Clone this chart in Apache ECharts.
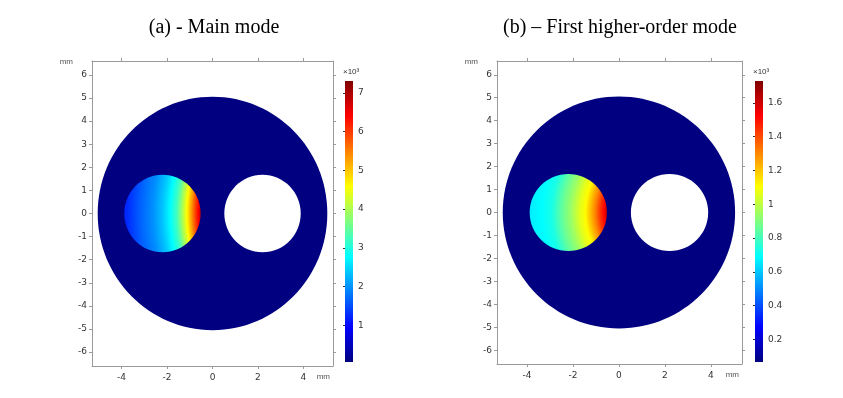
<!DOCTYPE html>
<html>
<head>
<meta charset="utf-8">
<title>Mode field</title>
<script src="https://cdn.jsdelivr.net/npm/echarts@6.0.0/dist/echarts.min.js"></script>
<style>
  html, body { margin: 0; padding: 0; background: #fff; }
  #chart { width: 843px; height: 398px; }
</style>
</head>
<body>
<div id="chart"></div>
<script>
// fibre cross-section, mm : cladding, left core, right hole
var circleX = [0, -2.2, 2.2];
var circleY = [0, 0, 0];
var circleR = [5.05, 1.68, 1.68];
var circleKind = [0, 1, 2];

// field read along y = 0 through the left core (x in mm, value x10^3)
var profileXA = [-3.77, -3.19, -2.61, -2.17, -1.86, -1.57, -1.35, -1.13, -0.94, -0.76, -0.62, -0.51];
var profileA = [1.24, 1.64, 1.98, 2.38, 2.77, 3.24, 3.9, 4.59, 5.27, 5.93, 6.4, 6.9];
var profileXB = [-3.79, -3.35, -2.92, -2.48, -2.05, -1.69, -1.46, -1.25, -1.03, -0.81, -0.64, -0.52];
var profileB = [0.665, 0.69, 0.73, 0.85, 0.95, 1.06, 1.11, 1.21, 1.31, 1.44, 1.52, 1.63];
// the iso-lines are arcs round these points on y = 0 (mm)
var fieldCentreA = 5.9;
var fieldCentreB = 1.85;

// colour scales
var rangeA = [0.05, 7.31];
var rangeB = [0.066, 1.73];
var cbTicksA = [1, 2, 3, 4, 5, 6, 7];
var cbTicksB = [0.2, 0.4, 0.6, 0.8, 1, 1.2, 1.4, 1.6];

// axes
var xTicks = [-4, -2, 0, 2, 4];
var yTicks = [-6, -5, -4, -3, -2, -1, 0, 1, 2, 3, 4, 5, 6];
var titles = ['(a) - Main mode', '(b) \u2013 First higher-order mode'];

var jet = ['#000080', '#0000ff', '#0080ff', '#00ffff', '#80ff80', '#ffff00', '#ff8000', '#ff0000', '#800000'];

function jetAt(v, range) {
    var t = (v - range[0]) / (range[1] - range[0]);
    t = Math.max(0, Math.min(1, t));
    return echarts.color.lerp(t, jet);
}

var circles = circleX.map(function (x, i) {
    return [x, circleY[i], circleR[i], circleKind[i]];
});

function fieldRenderer(profX, profV, range, centreX) {
    return function (params, api) {
        var c = api.coord([api.value(0), api.value(1)]);
        var s = api.size([api.value(2), api.value(2)]);
        var kind = api.value(3);
        var fill;
        if (kind === 0) {
            fill = jet[0];
        } else if (kind === 2) {
            fill = '#ffffff';
        } else {
            var g = api.coord([centreX, api.value(1)]);
            var far = centreX - (api.value(0) - api.value(2));
            var rad = api.size([far, 0])[0];
            var stops = [];
            for (var i = profX.length - 1; i >= 0; i--) {
                stops.push({ offset: (centreX - profX[i]) / far, color: jetAt(profV[i], range) });
            }
            fill = new echarts.graphic.RadialGradient(g[0], g[1], rad, stops, true);
        }
        return {
            type: 'ellipse',
            shape: { cx: c[0], cy: c[1], rx: s[0], ry: s[1] },
            style: { fill: fill }
        };
    };
}

function barRenderer(params, api) {
    var p0 = api.coord([0, api.value(1)]);
    var p1 = api.coord([1, api.value(2)]);
    var stops = jet.map(function (col, i) {
        return { offset: i / (jet.length - 1), color: col };
    });
    return {
        type: 'rect',
        shape: { x: p0[0], y: p1[1], width: p1[0] - p0[0], height: p0[1] - p1[1] },
        style: { fill: new echarts.graphic.LinearGradient(0, 1, 0, 0, stops) }
    };
}

var frameColor = '#9a9a9a';
var labelFont = { fontSize: 9, color: '#333', fontFamily: 'DejaVu Sans' };

function mainX(grid, min, max) {
    var common = {
        type: 'value', gridIndex: grid, min: min, max: max,
        splitLine: { show: false },
        axisLine: { show: true, onZero: false, lineStyle: { color: frameColor, width: 1 } },
        axisTick: { show: true, customValues: xTicks, length: 3, lineStyle: { color: frameColor } }
    };
    return [
        Object.assign({}, common, {
            position: 'bottom',
            axisLabel: Object.assign({ customValues: xTicks, margin: 7 }, labelFont),
            name: 'mm', nameLocation: 'end', nameGap: 0,
            nameTextStyle: { fontSize: 8, color: '#555', align: 'right', verticalAlign: 'top', padding: [7, 3, 0, 0] }
        }),
        Object.assign({}, common, { position: 'top', axisLabel: { show: false } })
    ];
}

function mainY(grid, min, max) {
    var common = {
        type: 'value', gridIndex: grid, min: min, max: max,
        splitLine: { show: false },
        axisLine: { show: true, onZero: false, lineStyle: { color: frameColor, width: 1 } },
        axisTick: { show: true, customValues: yTicks, length: 3, lineStyle: { color: frameColor } }
    };
    return [
        Object.assign({}, common, {
            position: 'left',
            axisLabel: Object.assign({ customValues: yTicks, margin: 5 }, labelFont),
            name: 'mm', nameLocation: 'end', nameGap: -1,
            nameTextStyle: { fontSize: 8, color: '#555', align: 'right', verticalAlign: 'middle', padding: [0, 19, 0, 0] }
        }),
        Object.assign({}, common, { position: 'right', axisLabel: { show: false } })
    ];
}

function barX(grid) {
    return { type: 'value', gridIndex: grid, min: 0, max: 1, show: false };
}

function barY(grid, range, ticks) {
    return {
        type: 'value', gridIndex: grid, min: range[0], max: range[1], position: 'right',
        splitLine: { show: false },
        axisLine: { show: false },
        axisTick: { show: true, inside: true, customValues: ticks, length: 2, lineStyle: { color: '#333' } },
        axisLabel: Object.assign({ customValues: ticks, margin: 5 }, labelFont),
        name: '\u00d710\u00b3', nameLocation: 'end', nameGap: 5,
        nameTextStyle: { fontSize: 8, color: '#333', align: 'left', verticalAlign: 'bottom', padding: [0, 0, 0, -2] }
    };
}

var chart = echarts.init(document.getElementById('chart'), null, { renderer: 'canvas' });

chart.setOption({
    backgroundColor: '#ffffff',
    animation: false,
    graphic: [
        { type: 'text', x: 214, y: 28, style: { text: titles[0], fontSize: 20, fontFamily: 'Liberation Serif', fill: '#000', align: 'center', verticalAlign: 'middle' } },
        { type: 'text', x: 620, y: 28, style: { text: titles[1], fontSize: 20, fontFamily: 'Liberation Serif', fill: '#000', align: 'center', verticalAlign: 'middle' } }
    ],
    grid: [
        { left: 92, top: 61, width: 241, height: 305 },
        { left: 497, top: 61, width: 245, height: 303 },
        { left: 345, top: 81, width: 8, height: 281 },
        { left: 755, top: 81, width: 8, height: 281 }
    ],
    xAxis: [].concat(mainX(0, -5.3, 5.3), mainX(1, -5.3, 5.35), [barX(2), barX(3)]),
    yAxis: [].concat(mainY(0, -6.6, 6.6), mainY(1, -6.6, 6.6), [barY(2, rangeA, cbTicksA), barY(3, rangeB, cbTicksB)]),
    series: [
        {
            type: 'custom', xAxisIndex: 0, yAxisIndex: 0, clip: true,
            renderItem: fieldRenderer(profileXA, profileA, rangeA, fieldCentreA),
            data: circles
        },
        {
            type: 'custom', xAxisIndex: 2, yAxisIndex: 2, clip: true,
            renderItem: fieldRenderer(profileXB, profileB, rangeB, fieldCentreB),
            data: circles
        },
        {
            type: 'custom', xAxisIndex: 4, yAxisIndex: 4,
            renderItem: barRenderer,
            data: [[0, rangeA[0], rangeA[1]]]
        },
        {
            type: 'custom', xAxisIndex: 5, yAxisIndex: 5,
            renderItem: barRenderer,
            data: [[0, rangeB[0], rangeB[1]]]
        }
    ]
});
</script>
</body>
</html>
